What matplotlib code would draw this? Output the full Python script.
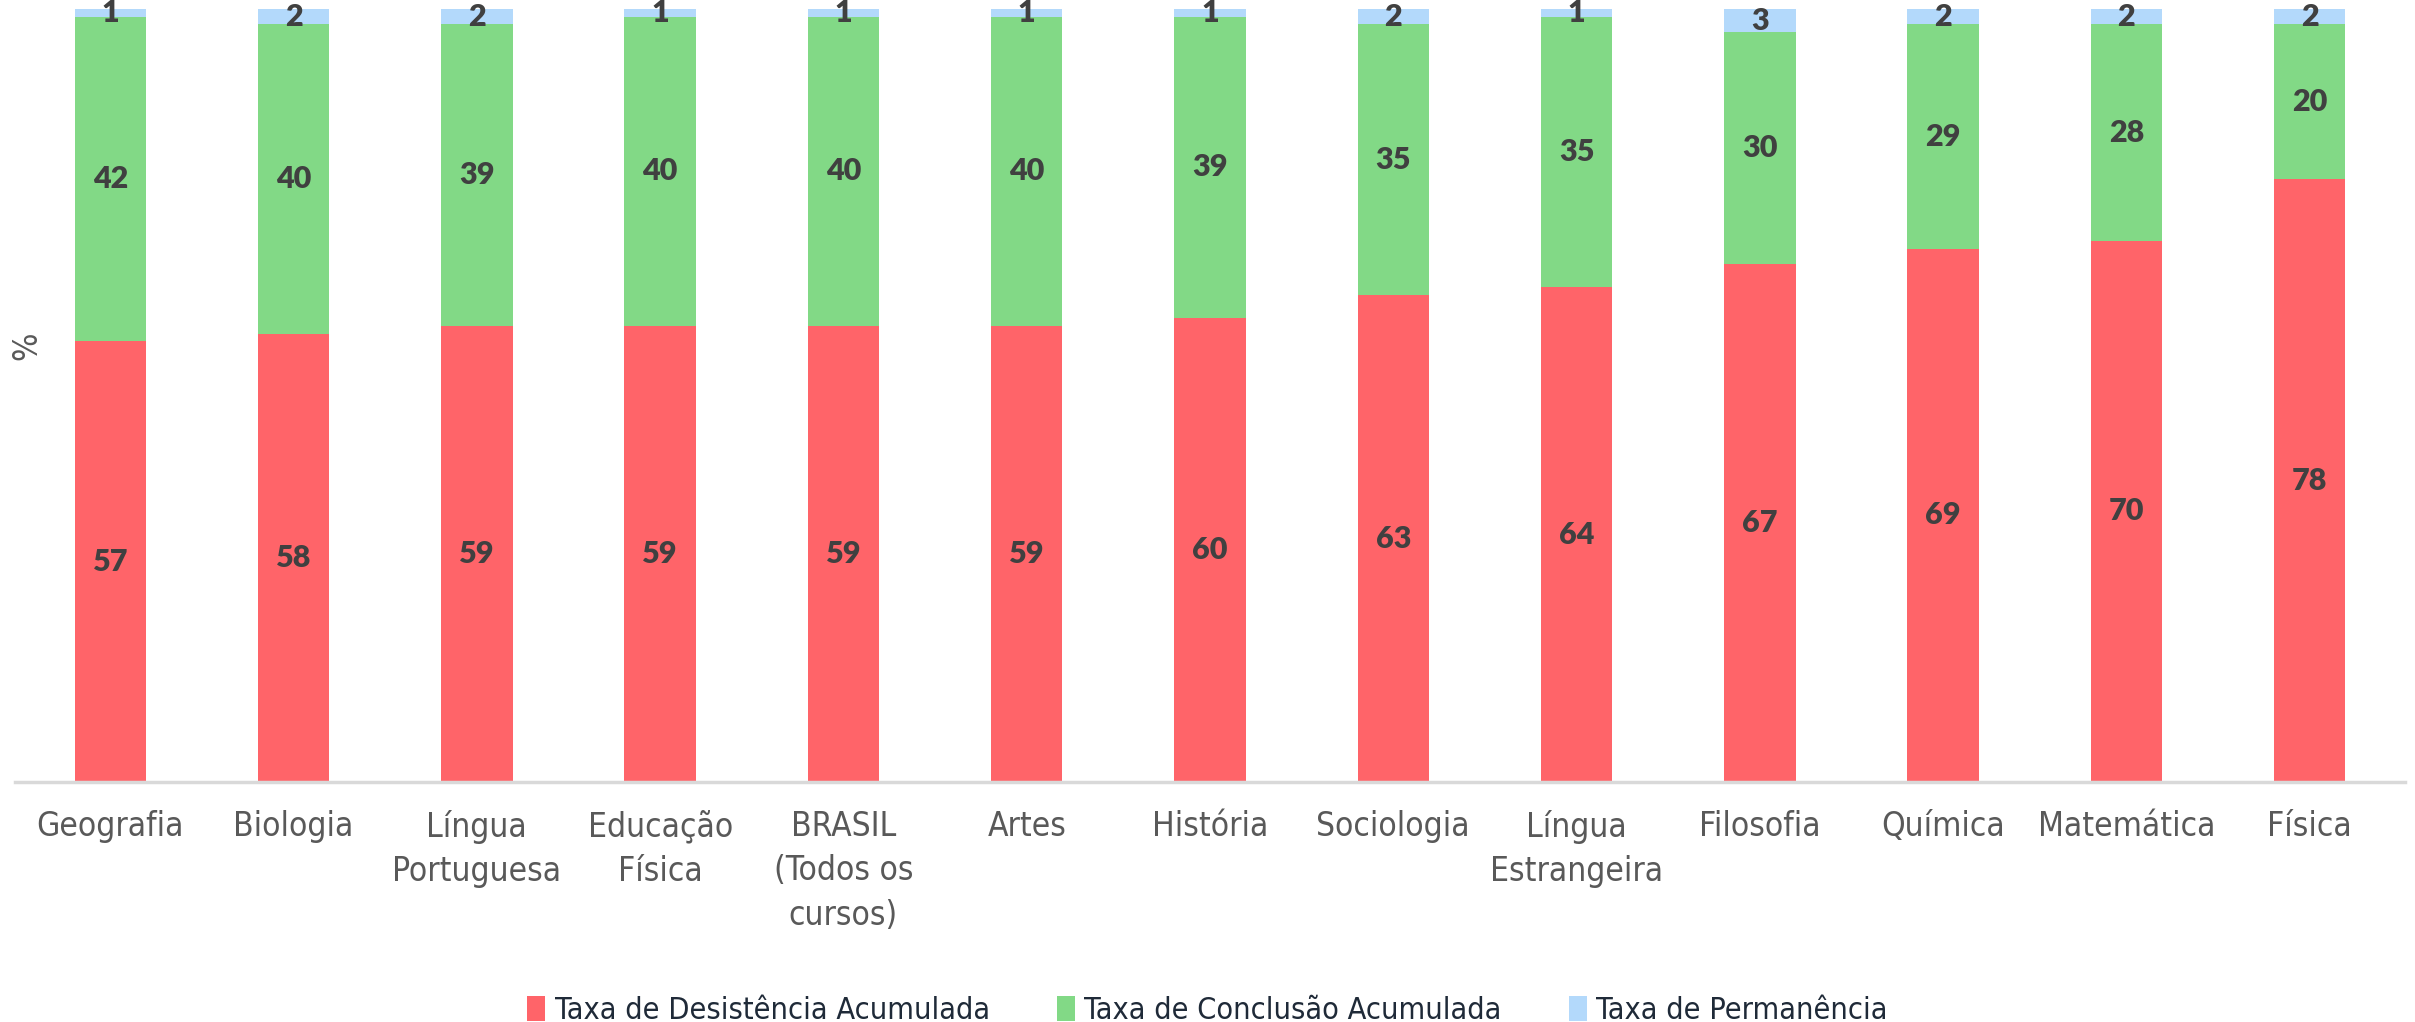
import matplotlib.pyplot as plt
from matplotlib import font_manager as fm
import numpy as np

cursos = ['Geografia', 'Biologia', 'Língua\nPortuguesa', 'Educação\nFísica',
          'BRASIL\n(Todos os\ncursos)', 'Artes', 'História', 'Sociologia',
          'Língua\nEstrangeira', 'Filosofia', 'Química', 'Matemática', 'Física']
desistencia = [57, 58, 59, 59, 59, 59, 60, 63, 64, 67, 69, 70, 78]
conclusao = [42, 40, 39, 40, 40, 40, 39, 35, 35, 30, 29, 28, 20]
permanencia = [1, 2, 2, 1, 1, 1, 1, 2, 1, 3, 2, 2, 2]

cor_red = '#ff6469'
cor_green = '#82d986'
cor_blue = '#b3d9fb'

# look for a regular narrow font, otherwise plain Liberation Sans
narrow = None
for f in fm.fontManager.ttflist:
    nm = f.name + ' ' + f.fname
    if f.weight in (400, 'normal', 'regular') and f.style == 'normal' and \
            ('Narrow' in nm or 'Condensed' in nm or f.stretch == 'condensed'):
        narrow = f
        break

if narrow is not None:
    fp = fm.FontProperties(fname=narrow.fname)
    tick_size, leg_size = 24, 22
else:
    fp = fm.FontProperties(family=['Liberation Sans', 'DejaVu Sans'])
    tick_size, leg_size = 21, 21

fig = plt.figure(figsize=(24.15, 10.22), dpi=100)
ax = fig.add_axes([15 / 2415, 1 - 782 / 1022, 2390 / 2415, 773 / 1022])

x = np.arange(len(cursos))
w = 0.39
d = np.array(desistencia)
c = np.array(conclusao)
p = np.array(permanencia)

ax.bar(x, d, w, color=cor_red, label='Taxa de Desistência Acumulada')
ax.bar(x, c, w, bottom=d, color=cor_green, label='Taxa de Conclusão Acumulada')
ax.bar(x, p, w, bottom=d + c, color=cor_blue, label='Taxa de Permanência')

lab = dict(ha='center', va='center', fontsize=22, fontweight='heavy',
           color='#404040', family=['Lato', 'DejaVu Sans'])
for i in range(len(x)):
    ax.text(x[i], d[i] / 2, str(d[i]), **lab)
    ax.text(x[i], d[i] + c[i] / 2, str(c[i]), **lab)
    ax.text(x[i], d[i] + c[i] + p[i] / 2, str(p[i]), **lab)

ax.set_xlim(-0.52, len(cursos) - 0.48)
ax.set_ylim(0, 100)
ax.set_yticks([])
ax.set_xticks(x)
ax.set_xticklabels(cursos, fontproperties=fp, fontsize=tick_size, color='#595959',
                   linespacing=1.45)
ax.tick_params(axis='x', length=0, pad=20)
for s in ['top', 'right', 'left']:
    ax.spines[s].set_visible(False)
ax.spines['bottom'].set_color('#d9d9d9')
ax.spines['bottom'].set_linewidth(2.5)
ax.set_ylabel('%', fontproperties=fp, fontsize=tick_size, color='#595959', labelpad=0)
ax.yaxis.set_label_coords(0.012, 0.564)

leg_fp = fp.copy()
leg_fp.set_size(leg_size)
fig.legend(loc='lower center', bbox_to_anchor=(0.5, -0.03), ncol=3, frameon=False,
           prop=leg_fp, handlelength=0.6, handleheight=0.9, handletextpad=0.3,
           columnspacing=2.2, labelcolor='#1f2a38')

fig.savefig('out.png', dpi=100)
